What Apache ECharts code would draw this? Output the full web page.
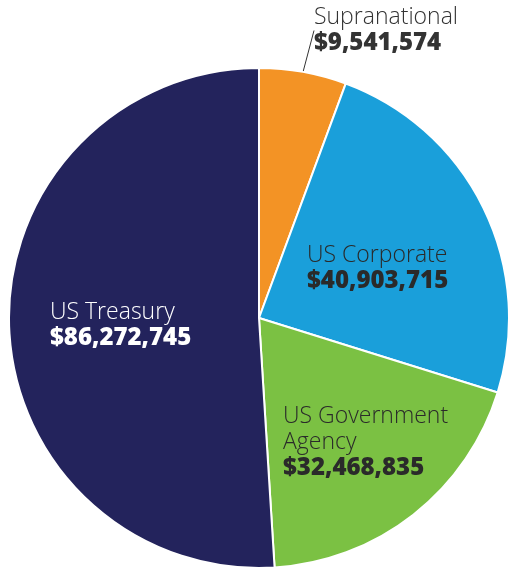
<!DOCTYPE html>
<html>
<head>
<meta charset="utf-8">
<script src="https://cdn.jsdelivr.net/npm/echarts@6/dist/echarts.min.js"></script>
<style>html,body{margin:0;padding:0;background:#fff;}#c{width:511px;height:569px;}</style>
</head>
<body>
<div id="c"></div>
<script>
const categories = ['Supranational', 'US Corporate', 'US Government Agency', 'US Treasury'];
const labelNames = ['Supranational', 'US Corporate', 'US Government\nAgency', 'US Treasury'];
const values = [9541574, 40903715, 32468835, 86272745];
const colors = ['#F39325', '#1A9FDA', '#7BC143', '#23235C'];
const textColors = ['#333333', '#2a2a2a', '#2a2a2a', '#ffffff'];
const labelPos = [[314, 4], [307, 242], [283, 403], [50, 299]];

const chart = echarts.init(document.getElementById('c'), null, {renderer: 'canvas'});
const fmt = v => '$' + v.toLocaleString('en-US');

chart.setOption({
  animation: false,
  series: [{
    type: 'pie',
    center: [259, 318],
    radius: 250,
    startAngle: 90,
    clockwise: true,
    avoidLabelOverlap: false,
    itemStyle: {borderColor: '#ffffff', borderWidth: 2},
    labelLine: {show: false},
    labelLayout: function (params) {
      const p = labelPos[params.dataIndex];
      return {x: p[0], y: p[1], align: 'left', verticalAlign: 'top'};
    },
    data: categories.map((c, i) => ({
      name: c,
      value: values[i],
      itemStyle: {color: colors[i]},
      label: {
        show: true,
        position: i === 0 ? 'outside' : 'inside',
        formatter: '{n|' + labelNames[i] + '}\n{v|' + fmt(values[i]) + '}',
        rich: {
          n: {fontFamily: 'Open Sans', fontSize: 23, fontWeight: 300, lineHeight: 26, color: textColors[i], align: 'left'},
          v: {fontFamily: 'Open Sans', fontSize: 24, fontWeight: 800, lineHeight: 27, color: textColors[i], align: 'left'}
        }
      },
      labelLine: i === 0 ? {show: true, length: 58, length2: 0, lineStyle: {color: '#333', width: 1}} : {show: false}
    }))
  }]
});
</script>
</body>
</html>
